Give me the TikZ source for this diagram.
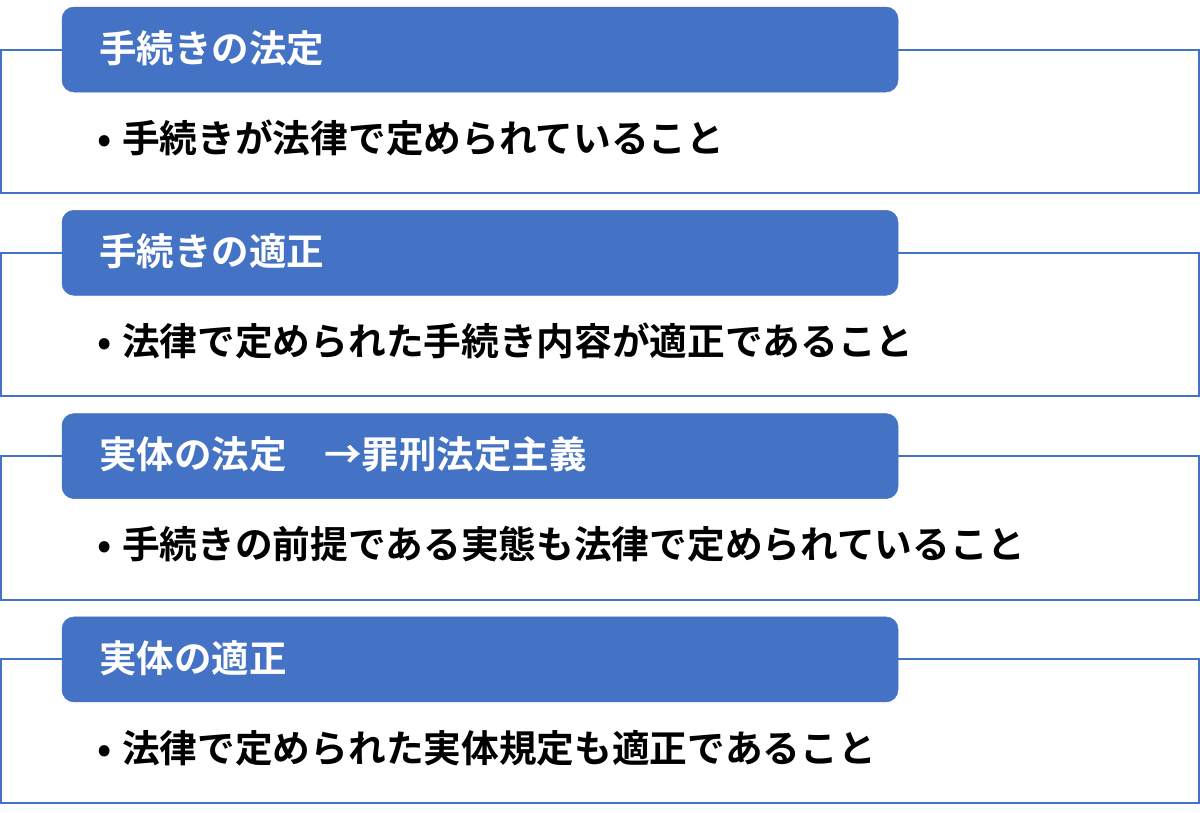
\documentclass[tikz,border=0pt]{standalone}
\usepackage{fontspec}
\setmainfont{Noto Sans CJK JP}[BoldFont={Noto Sans CJK JP Bold}]
\newfontfamily\jpb{Noto Sans CJK JP Bold}
\definecolor{offblue}{HTML}{4472C4}
\tikzset{
  x=1pt, y=-1pt,
  outerbox/.style={draw=offblue, line width=2pt},
  headbox/.style={fill=offblue, draw=offblue, line width=0.5pt, rounded corners=12pt},
  headtext/.style={anchor=west, inner sep=0pt, text=white, font=\jpb\fontsize{37.5}{44}\selectfont},
  bodytext/.style={anchor=west, inner sep=0pt, text=black, font=\jpb\fontsize{37.7}{44}\selectfont}
}
\newcommand{\bul}{\makebox[25pt][l]{•}}
\begin{document}
\begin{tikzpicture}
\useasboundingbox (0,0) rectangle (1200,812);
\foreach \i/\head/\body in {
  0/{手続きの法定}/{手続きが法律で定められていること},
  1/{手続きの適正}/{法律で定められた手続き内容が適正であること},
  2/{実体の法定　→罪刑法定主義}/{手続きの前提である実態も法律で定められていること},
  3/{実体の適正}/{法律で定められた実体規定も適正であること}}{
  \pgfmathsetmacro{\oy}{203.3*\i}
  \begin{scope}[yshift={-\oy pt}]
    \draw[outerbox] (1,49.5) rectangle (1199,193);
    \path[headbox] (62,7) rectangle (898,92);
    \node[headtext] (h\i) at (99,48) {\head};
    \node[bodytext] (b\i) at (97,138) {\bul\body};
  \end{scope}
}
\end{tikzpicture}
\end{document}
